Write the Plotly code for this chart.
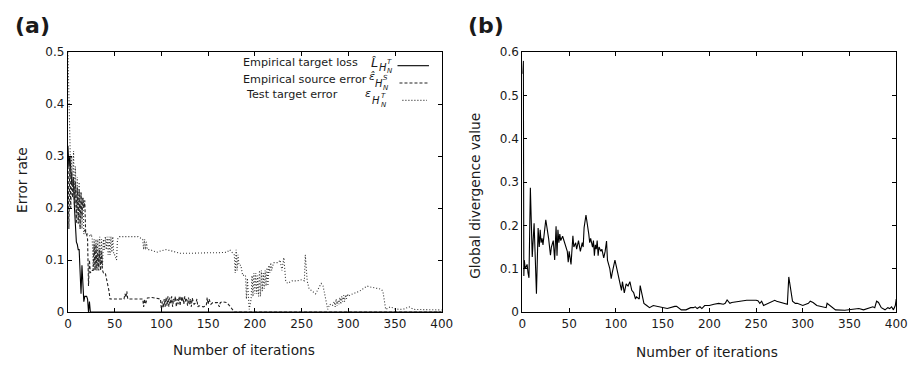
import plotly.graph_objects as go

W, H = 922, 370

# ---------------- data: panel (a) ----------------
loss_x = [0, 1, 2, 3, 4, 5, 6, 7, 8, 9, 10, 11, 12, 13, 14, 15, 16, 17, 18, 19, 20, 21, 22, 23, 24, 400]
loss_y = [0.32, 0.28, 0.30, 0.26, 0.25, 0.25, 0.25, 0.20, 0.16, 0.135, 0.13, 0.12, 0.12, 0.08, 0.035, 0.09,
          0.05, 0.02, 0.03, 0.03, 0.03, 0.025, 0.0, 0.02, 0.0, 0.0]

src_x = [0, 1, 2, 3, 4, 5, 6, 7, 8, 9, 10, 11, 12, 13, 14, 15, 16, 17, 18, 19, 20, 21, 22, 23, 24, 25,
         27, 28, 29, 30, 31, 32, 33, 34, 35, 36, 37, 38, 40, 42, 44, 45, 50, 55, 60, 61, 62, 63, 64, 70,
         75, 80, 81, 82, 83, 85, 90, 95, 99,
         100, 101, 102, 103, 104, 105, 106, 107, 108, 109, 110, 111, 112, 113, 114, 115, 116, 117, 118,
         119, 120, 121, 122, 123, 124, 125, 126, 127, 128, 129, 130, 131, 132, 133, 134, 135, 137, 138,
         139, 140, 145, 148, 149, 150, 151, 153, 155, 160, 162, 163, 165, 170, 173, 176, 178, 400]
src_y = [0.30, 0.16, 0.29, 0.20, 0.27, 0.22, 0.26, 0.20, 0.25, 0.17, 0.24, 0.17, 0.235, 0.16, 0.23, 0.18,
         0.22, 0.20, 0.215, 0.15, 0.15, 0.14, 0.05, 0.10, 0.075, 0.08,
         0.08, 0.13, 0.08, 0.13, 0.08, 0.12, 0.08, 0.12, 0.08, 0.115, 0.08, 0.075, 0.075, 0.06, 0.04,
         0.025, 0.025, 0.025, 0.025, 0.035, 0.028, 0.04, 0.025, 0.025,
         0.025, 0.025, 0.01, 0.025, 0.015, 0.027, 0.028, 0.027, 0.025,
         0.005, 0.02, 0.008, 0.025, 0.01, 0.028, 0.012, 0.03, 0.01, 0.028, 0.015, 0.03, 0.01, 0.025,
         0.02, 0.03, 0.01, 0.025, 0.015,
         0.03, 0.012, 0.03, 0.02, 0.028, 0.015, 0.03, 0.02, 0.025, 0.012, 0.028, 0.015, 0.025, 0.01,
         0.027, 0.02, 0.015, 0.018, 0.025,
         0.01, 0.012, 0.01, 0.012, 0.028, 0.015, 0.025, 0.015, 0.018, 0.018, 0.01, 0.018, 0.02, 0.018,
         0.012, 0.005, 0.0, 0.0]

test_x = [0, 1, 2, 3, 4, 5, 6, 7, 8, 9, 10, 11, 12, 13, 14, 15, 16, 17, 18, 19, 20, 22, 24, 25, 26,
          27, 28, 29, 30, 31, 32, 33, 34, 35, 36, 37, 38, 39, 40, 41, 42, 43, 44, 45, 46, 47, 48, 49,
          50, 52, 53, 55, 60, 65, 70, 75, 80, 81, 82, 83, 84, 85, 88, 95, 100, 105, 110, 115, 120, 130,
          140, 150, 160, 170, 173, 176, 178, 179, 180, 181, 182, 183, 185, 187, 189, 190, 191, 192, 193,
          194, 196, 197, 198, 199, 200, 201, 202, 203, 204, 205, 206, 207, 208, 209, 210, 211, 212, 213,
          214, 215, 216, 217, 218, 220, 225, 227, 229, 230, 231, 233, 235, 240, 245, 250, 253, 254, 255,
          256, 258, 262, 265, 268, 271, 273, 275, 277, 278, 280, 283, 285, 286, 287, 288, 289, 290, 291,
          292, 293, 294, 295, 296, 297, 298, 299, 300, 302, 305, 308, 312, 316, 320, 324, 328, 332, 335,
          337, 340, 345, 350, 355, 360, 365, 370, 380, 400]
test_y = [0.50, 0.42, 0.30, 0.26, 0.30, 0.24, 0.31, 0.22, 0.28, 0.18, 0.26, 0.17, 0.25, 0.16, 0.23,
          0.16, 0.22, 0.15, 0.16, 0.15, 0.15, 0.15, 0.145, 0.15, 0.14,
          0.08, 0.14, 0.08, 0.14, 0.085, 0.14, 0.09, 0.145, 0.09, 0.14, 0.09, 0.14, 0.12, 0.145, 0.12,
          0.145, 0.11, 0.145, 0.11, 0.145, 0.115, 0.145, 0.11,
          0.11, 0.10, 0.14, 0.145, 0.145, 0.145, 0.145, 0.145, 0.14, 0.12, 0.14, 0.12, 0.135, 0.12,
          0.12, 0.115, 0.118, 0.12, 0.118, 0.115, 0.113, 0.113,
          0.114, 0.114, 0.114, 0.115, 0.12, 0.115, 0.11, 0.075, 0.12, 0.08, 0.11, 0.09, 0.09, 0.07,
          0.072, 0.07, 0.025, 0.065, 0.03,
          0.005, 0.025, 0.07, 0.03, 0.075, 0.035, 0.075, 0.035, 0.07, 0.03, 0.08, 0.03, 0.08, 0.04,
          0.075, 0.045, 0.08, 0.05, 0.085,
          0.05, 0.09, 0.075, 0.095, 0.08, 0.095, 0.095, 0.10, 0.08, 0.095, 0.105, 0.06, 0.055, 0.06,
          0.06, 0.062, 0.06, 0.11, 0.07,
          0.06, 0.045, 0.04, 0.035, 0.045, 0.055, 0.05, 0.03, 0.01, 0.005, 0.015, 0.012, 0.02, 0.01,
          0.025, 0.012, 0.022, 0.015, 0.028,
          0.015, 0.03, 0.02, 0.032, 0.02, 0.033, 0.025, 0.035, 0.03, 0.033, 0.035, 0.038, 0.04, 0.045,
          0.05, 0.048, 0.046, 0.045, 0.044, 0.04,
          0.005, 0.01, 0.006, 0.005, 0.006, 0.01, 0.005, 0.005, 0.004, 0.004]

# ---------------- data: panel (b) ----------------
div_x = [0, 1, 1.5, 2, 3, 5, 6, 7, 8.5, 10.5, 12.5, 15, 16.8, 18, 19, 20, 21, 22, 25, 27, 28, 30, 31,
         33, 34.5, 36, 37, 38, 39, 40, 41, 43, 45, 46, 48, 49, 50, 52, 54, 55, 57, 58, 60, 62, 64, 65,
         66, 68, 70, 71, 72, 73, 75, 76, 77, 78, 79, 80, 81, 82, 84, 85, 87, 88.5, 90, 91, 93.5, 95,
         96, 97.5, 99, 101, 103, 104, 106, 107, 109, 111, 113, 115, 117, 119, 121, 122, 125, 126, 128,
         130, 133, 136, 140, 150, 155, 163, 165, 170, 175, 180, 183, 185, 187, 190, 192, 195, 200, 205,
         210, 215, 217, 219, 222, 224, 240, 250, 252, 254, 256, 258, 270, 272, 280, 283.5, 285, 287,
         289, 292, 294, 300, 303, 306, 308, 311, 315, 320, 324, 325, 326, 335, 345, 355, 360, 365, 370,
         375, 377, 379, 381, 384, 388, 391, 393, 395, 397, 399, 400]
div_y = [0.55, 0.58, 0.083, 0.12, 0.10, 0.11, 0.09, 0.079, 0.287, 0.127, 0.205, 0.042, 0.194, 0.15,
         0.19, 0.16, 0.17, 0.155, 0.213, 0.19, 0.17, 0.131, 0.15, 0.165,
         0.12, 0.198, 0.13, 0.19, 0.16, 0.18, 0.165, 0.175, 0.16, 0.15, 0.14, 0.115, 0.14, 0.11, 0.176,
         0.15, 0.16, 0.145, 0.165, 0.14, 0.16, 0.15, 0.195,
         0.224, 0.20, 0.18, 0.16, 0.17, 0.15, 0.165, 0.13, 0.155, 0.145, 0.165, 0.13, 0.15, 0.14, 0.145,
         0.125, 0.14, 0.164, 0.12, 0.10, 0.077, 0.09,
         0.11, 0.12, 0.10, 0.08, 0.07, 0.05, 0.07, 0.044, 0.065, 0.06, 0.07, 0.05, 0.045, 0.03, 0.035,
         0.03, 0.061, 0.04, 0.02,
         0.015, 0.01, 0.015, 0.01, 0.008, 0.013, 0.013, 0.005, 0.005, 0.01, 0.01, 0.012, 0.008, 0.012,
         0.008, 0.015, 0.015, 0.018, 0.02,
         0.018, 0.02, 0.028, 0.02, 0.022, 0.027, 0.027, 0.026, 0.02, 0.025, 0.015, 0.027, 0.025, 0.02,
         0.018, 0.081, 0.05, 0.025,
         0.02, 0.02, 0.015, 0.017, 0.02, 0.025, 0.022, 0.015, 0.012, 0.01, 0.01, 0.02, 0.005, 0.004,
         0.006, 0.008, 0.005, 0.008, 0.012,
         0.01, 0.025, 0.022, 0.01, 0.005, 0.01, 0.008, 0.012, 0.005, 0.015, 0.03, 0.025]

x_ticks = [0, 50, 100, 150, 200, 250, 300, 350, 400]
ya_ticks = [0, 0.1, 0.2, 0.3, 0.4, 0.5]
yb_ticks = [0, 0.1, 0.2, 0.3, 0.4, 0.5, 0.6]

FONT = "DejaVu Sans"
INK = "#1a1a1a"

fig = go.Figure()
fig.add_trace(go.Scatter(x=loss_x, y=loss_y, mode="lines", line=dict(color="#000", width=1.1),
                         xaxis="x", yaxis="y", showlegend=False))
fig.add_trace(go.Scatter(x=src_x, y=src_y, mode="lines", line=dict(color="#222", width=1.1, dash="3px,2px"),
                         xaxis="x", yaxis="y", showlegend=False))
fig.add_trace(go.Scatter(x=test_x, y=test_y, mode="lines", line=dict(color="#333", width=1.1, dash="1px,2px"),
                         xaxis="x", yaxis="y", showlegend=False))
fig.add_trace(go.Scatter(x=div_x, y=div_y, mode="lines", line=dict(color="#000", width=1.1),
                         xaxis="x2", yaxis="y2", showlegend=False))


def px(x):
    return x / W


def py(y):
    return 1 - y / H


axis_common = dict(showline=True, linecolor="#000", linewidth=1.3, mirror="allticks", ticks="inside",
                   ticklen=4, tickcolor="#000", showgrid=False, zeroline=False,
                   tickfont=dict(family=FONT, size=12, color=INK))

fig.update_layout(
    width=W, height=H, margin=dict(l=0, r=0, t=0, b=0),
    paper_bgcolor="white", plot_bgcolor="white",
    xaxis=dict(domain=[px(65), px(445)], range=[0, 400], tickvals=x_ticks, anchor="y", **axis_common),
    yaxis=dict(domain=[py(317), py(47)], range=[0, 0.5], tickvals=ya_ticks, anchor="x", **axis_common),
    xaxis2=dict(domain=[px(527), px(907)], range=[0, 400], tickvals=x_ticks, anchor="y2", **axis_common),
    yaxis2=dict(domain=[py(317), py(47)], range=[0, 0.6], tickvals=yb_ticks, anchor="x2", **axis_common),
)

ann = []


def text(x, y, s, size=13.7, anchor="center", bold=False, angle=0, italic=False):
    if italic:
        s = "<i>" + s + "</i>"
    if bold:
        s = "<b>" + s + "</b>"
    ann.append(dict(x=px(x), y=py(y), xref="paper", yref="paper", text=s, showarrow=False,
                    xanchor=anchor, yanchor="middle", textangle=angle, borderpad=0,
                    font=dict(family=FONT, size=size, color=INK)))


text(29, 19, "(a)", size=22, bold=True)
text(490, 19, "(b)", size=22, bold=True)
text(244, 357, "Number of iterations")
text(715, 359, "Number of iterations")
text(18, 180, "Error rate", angle=-90)
text(478, 196, "Global divergence value", angle=-90)

# legend texts
text(241.5, 58, "Empirical target loss", size=11.2, anchor="left")
text(241.5, 75, "Empirical source error", size=11.2, anchor="left")
text(245, 91, "Test target error", size=11.2, anchor="left")
# legend symbols
text(377, 58, "L̂", size=13, italic=True)
text(385.5, 63, "H", size=10, italic=True)
text(392, 57, "T", size=7, italic=True)
text(392, 67, "N", size=7, italic=True)

text(374, 72, "ε̂", size=11, italic=True)
text(381, 79, "H", size=10, italic=True)
text(388, 74, "S", size=7, italic=True)
text(388, 84, "N", size=7, italic=True)

text(370, 90, "ε", size=11, italic=True)
text(378.5, 97, "H", size=10, italic=True)
text(386, 92, "T", size=7, italic=True)
text(386, 102, "N", size=7, italic=True)

fig.update_layout(annotations=ann)

shapes = [
    dict(type="line", xref="paper", yref="paper", x0=px(400), x1=px(432), y0=py(61), y1=py(61),
         line=dict(color="#000", width=1.1)),
    dict(type="line", xref="paper", yref="paper", x0=px(402), x1=px(432), y0=py(79), y1=py(79),
         line=dict(color="#222", width=1.1, dash="3px,2px")),
    dict(type="line", xref="paper", yref="paper", x0=px(405), x1=px(430), y0=py(97), y1=py(97),
         line=dict(color="#333", width=1.1, dash="1px,2px")),
]
fig.update_layout(shapes=shapes)

fig.write_html("out.html")
